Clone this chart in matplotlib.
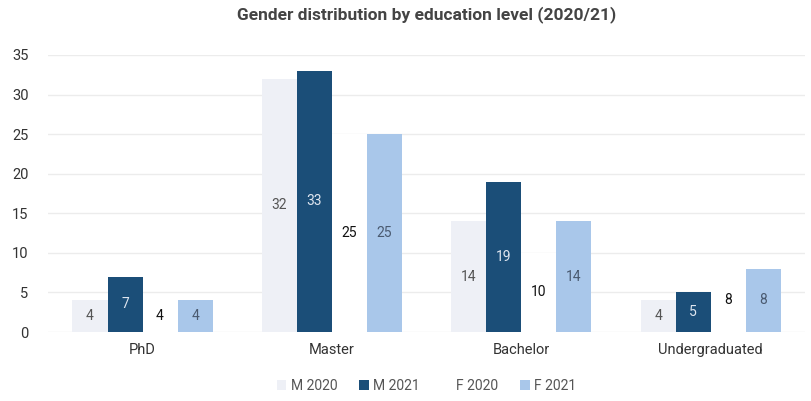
import matplotlib.pyplot as plt
import numpy as np

plt.rcParams['font.family'] = ['Roboto', 'DejaVu Sans']

levels = ['PhD', 'Master', 'Bachelor', 'Undergraduated']
series = ['M 2020', 'M 2021', 'F 2020', 'F 2021']
m_2020 = [4, 32, 14, 4]
m_2021 = [7, 33, 19, 5]
f_2020 = [4, 25, 10, 8]
f_2021 = [4, 25, 14, 8]

colors = ['#eef0f6', '#1b4e78', '#ffffff', '#a9c7ea']
label_colors = ['#555555', '#dfe6f0', '#111111', '#4a5a70']

fig = plt.figure(figsize=(8.11, 4.01), dpi=100)
ax = fig.add_axes([0.059, 0.172, 0.934, 0.691])

x = np.arange(len(levels))
bar_width = 0.185
values = [m_2020, m_2021, f_2020, f_2021]
for i, (name, vals) in enumerate(zip(series, values)):
    pos = x + (i - 1.5) * bar_width
    bars = ax.bar(pos, vals, bar_width, color=colors[i], label=name, zorder=2)
    for b, v in zip(bars, vals):
        ax.text(b.get_x() + b.get_width() / 2, v / 2, str(v), ha='center',
                va='center', fontsize=10, color=label_colors[i], zorder=3)

ax.set_xlim(-0.5, len(levels) - 0.5)
ax.set_ylim(0, 35)
ax.set_yticks(range(0, 36, 5))
ax.set_xticks(x)
ax.set_xticklabels(levels)
ax.grid(axis='y', color='#ececec', linewidth=1, zorder=0)
for s in ax.spines.values():
    s.set_visible(False)
ax.tick_params(length=0, labelsize=10.5, colors='#333333')
ax.tick_params(axis='x', pad=8)
ax.tick_params(axis='y', pad=14)

ax.set_title('Gender distribution by education level (2020/21)', fontsize=12.5,
             fontweight='bold', color='#444444', pad=26)

ax.legend(loc='upper center', bbox_to_anchor=(0.5, -0.125), ncol=4, frameon=False,
          fontsize=10, handlelength=0.7, handleheight=0.7, handletextpad=0.3,
          columnspacing=1.6, labelcolor='#555555')

fig.savefig('out.png', dpi=100)
